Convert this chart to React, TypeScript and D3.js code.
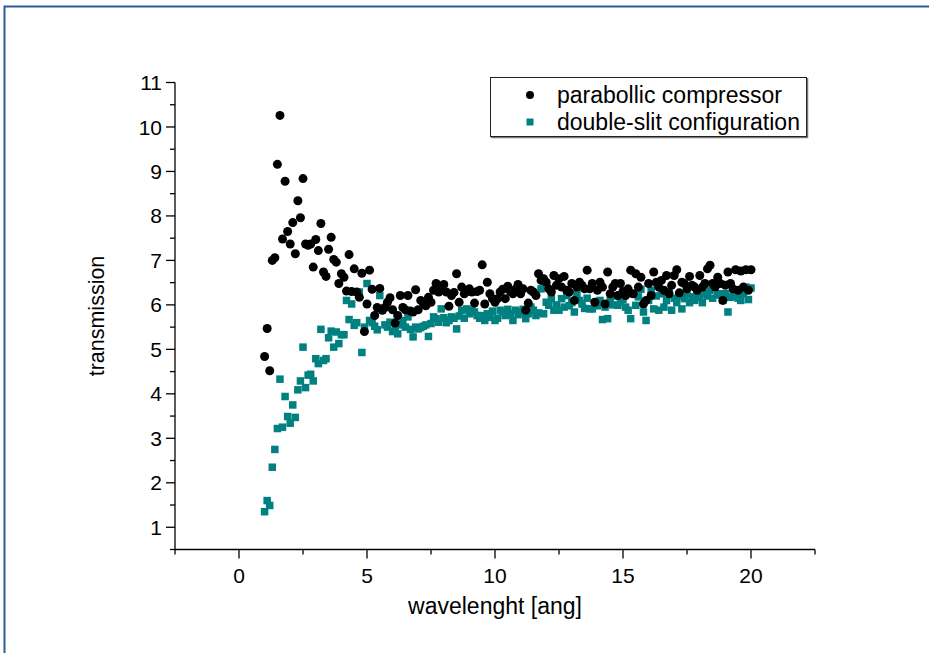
import React from "react";
import * as d3 from "d3";

const wavelengths = [
  1.0, 1.1, 1.2, 1.3, 1.4, 1.5, 1.6, 1.7, 1.8, 1.9,
  2.0, 2.1, 2.2, 2.3, 2.4, 2.5, 2.6, 2.7, 2.8, 2.9,
  3.0, 3.1, 3.2, 3.3, 3.4, 3.5, 3.6, 3.7, 3.8, 3.9,
  4.0, 4.1, 4.2, 4.3, 4.4, 4.5, 4.6, 4.7, 4.8, 4.9,
  5.0, 5.1, 5.2, 5.3, 5.4, 5.5, 5.6, 5.7, 5.8, 5.9,
  6.0, 6.1, 6.2, 6.3, 6.4, 6.5, 6.6, 6.7, 6.8, 6.9,
  7.0, 7.1, 7.2, 7.3, 7.4, 7.5, 7.6, 7.7, 7.8, 7.9,
  8.0, 8.1, 8.2, 8.3, 8.4, 8.5, 8.6, 8.7, 8.8, 8.9,
  9.0, 9.1, 9.2, 9.3, 9.4, 9.5, 9.6, 9.7, 9.8, 9.9,
  10.0, 10.1, 10.2, 10.3, 10.4, 10.5, 10.6, 10.7, 10.8, 10.9,
  11.0, 11.1, 11.2, 11.3, 11.4, 11.5, 11.6, 11.7, 11.8, 11.9,
  12.0, 12.1, 12.2, 12.3, 12.4, 12.5, 12.6, 12.7, 12.8, 12.9,
  13.0, 13.1, 13.2, 13.3, 13.4, 13.5, 13.6, 13.7, 13.8, 13.9,
  14.0, 14.1, 14.2, 14.3, 14.4, 14.5, 14.6, 14.7, 14.8, 14.9,
  15.0, 15.1, 15.2, 15.3, 15.4, 15.5, 15.6, 15.7, 15.8, 15.9,
  16.0, 16.1, 16.2, 16.3, 16.4, 16.5, 16.6, 16.7, 16.8, 16.9,
  17.0, 17.1, 17.2, 17.3, 17.4, 17.5, 17.6, 17.7, 17.8, 17.9,
  18.0, 18.1, 18.2, 18.3, 18.4, 18.5, 18.6, 18.7, 18.8, 18.9,
  19.0, 19.1, 19.2, 19.3, 19.4, 19.5, 19.6, 19.7, 19.8, 19.9,
  20.0,
];

const parabolicCompressor = [
  4.84, 5.47, 4.52, 7.0, 7.06, 9.16, 10.26, 7.48, 8.78, 7.65,
  7.37, 7.85, 7.15, 8.34, 7.96, 8.84, 7.37, 7.34, 7.37, 6.85,
  7.47, 7.22, 7.83, 6.74, 6.64, 7.25, 7.52, 7.02, 6.96, 6.48,
  6.7, 6.62, 6.31, 7.13, 6.3, 6.81, 6.29, 6.17, 6.71, 5.4,
  6.02, 6.78, 6.35, 5.76, 5.94, 6.37, 5.88, 5.94, 6.06, 6.16,
  5.89, 5.59, 5.76, 6.21, 5.94, 5.89, 6.21, 5.86, 5.84, 6.34,
  5.89, 6.1, 6.04, 5.98, 6.17, 6.06, 6.33, 6.48, 6.29, 6.33,
  6.46, 6.29, 5.97, 6.21, 6.28, 6.7, 6.06, 6.4, 6.25, 6.3,
  6.36, 6.29, 6.04, 6.3, 6.33, 6.9, 6.02, 6.51, 6.25, 6.14,
  6.06, 6.14, 6.29, 6.35, 6.14, 6.42, 6.3, 6.25, 6.35, 6.46,
  6.25, 6.36, 5.88, 6.04, 6.33, 6.29, 6.21, 6.7, 6.55, 6.59,
  6.51, 6.36, 6.29, 6.66, 6.44, 6.59, 6.4, 6.64, 6.33, 6.29,
  6.48, 6.1, 6.4, 6.51, 6.44, 6.36, 6.78, 6.36, 6.48, 6.06,
  6.33, 6.51, 6.4, 6.02, 6.74, 6.25, 6.4, 6.48, 6.21, 6.48,
  6.3, 6.21, 6.36, 6.78, 6.25, 6.7, 6.4, 6.62, 6.02, 6.1,
  6.48, 6.21, 6.74, 6.51, 6.4, 6.55, 6.33, 6.66, 6.25, 6.44,
  6.66, 6.79, 6.27, 6.51, 6.48, 6.36, 6.64, 6.44, 6.4, 6.33,
  6.66, 6.4, 6.48, 6.81, 6.89, 6.48, 6.4, 6.62, 6.48, 6.1,
  6.44, 6.74, 6.48, 6.36, 6.79, 6.33, 6.76, 6.4, 6.79, 6.33,
  6.79,
];

const doubleSlit = [
  1.35, 1.6, 1.49, 2.35, 2.75, 3.22, 4.33, 3.25, 3.94, 3.49,
  3.34, 3.75, 3.47, 4.09, 4.29, 5.05, 4.14, 4.42, 4.44, 4.29,
  4.79, 4.68, 5.45, 4.75, 4.79, 5.26, 5.41, 5.05, 5.39, 5.13,
  5.33, 5.33, 6.1, 5.67, 6.02, 5.54, 5.6, 6.29, 4.93, 5.5,
  6.48, 5.65, 5.6, 5.52, 5.44, 6.21, 5.88, 5.55, 5.5, 5.61,
  5.4, 5.46, 5.35, 5.55, 5.65, 5.5, 5.73, 5.45, 5.28, 5.5,
  5.46, 5.49, 5.52, 5.55, 5.29, 5.58, 5.73, 5.69, 5.61, 5.91,
  5.71, 5.6, 5.65, 5.73, 5.7, 5.46, 5.75, 5.88, 5.7, 5.91,
  5.8, 5.88, 5.84, 5.76, 5.7, 5.76, 5.65, 5.8, 5.72, 5.86,
  5.65, 5.7, 5.88, 5.84, 5.76, 5.9, 5.8, 5.65, 5.88, 5.78,
  5.84, 5.9, 5.69, 5.8, 5.95, 5.88, 5.76, 5.82, 6.36, 5.8,
  6.06, 5.99, 6.14, 5.88, 6.0, 5.88, 6.14, 5.95, 6.21, 5.98,
  6.05, 5.84, 6.25, 6.1, 6.02, 5.92, 6.15, 5.91, 5.91, 6.05,
  5.98, 6.1, 5.67, 5.95, 5.69, 6.1, 6.0, 6.2, 5.99, 6.06,
  6.12, 5.95, 5.88, 5.69, 6.25, 5.99, 6.18, 6.35, 5.84, 5.65,
  6.1, 6.33, 5.91, 6.2, 5.88, 6.25, 5.95, 6.1, 6.3, 5.88,
  6.15, 6.05, 6.2, 5.91, 6.14, 6.25, 6.05, 6.18, 6.1, 6.25,
  6.17, 6.05, 6.25, 6.2, 6.33, 6.15, 6.48, 6.22, 6.25, 6.1,
  6.25, 5.84, 6.17, 6.3, 6.2, 6.15, 6.1, 6.25, 6.4, 6.12,
  6.38,
];

const xMajorTicks = [0, 5, 10, 15, 20];
const xMinorTicks = [-2.5, 2.5, 7.5, 12.5, 17.5, 22.5];
const yMajorTicks = [1, 2, 3, 4, 5, 6, 7, 8, 9, 10, 11];
const yMinorTicks = [0.5, 1.5, 2.5, 3.5, 4.5, 5.5, 6.5, 7.5, 8.5, 9.5, 10.5];

const seriesNames = ["parabollic compressor", "double-slit configuration"];

const FONT = "'Liberation Sans', Arial, sans-serif";
const TEAL = "#008080";

export default function App() {
  const W = 929;
  const H = 653;
  const x = d3.scaleLinear().domain([-2.5, 22.5]).range([175, 815]);
  const y = d3.scaleLinear().domain([0.5, 11]).range([549.5, 82.5]);
  const x0 = x(-2.5);
  const y0 = y(0.5);
  const sq = 7.5;

  return (
    <svg
      width={W}
      height={H}
      style={{ position: "absolute", left: 0, top: 0, background: "#fff" }}
    >
      <rect x={0} y={0} width={W} height={H} fill="#fff" />
      {/* outer frame */}
      <path d={`M4.5,${H + 5} V6.5 H${W + 5}`} fill="none" stroke="#2f5a9a" strokeWidth={2} />

      {/* axes */}
      <line x1={x0} x2={x0} y1={y(11)} y2={y0} stroke="#000" strokeWidth={1.3} />
      <line x1={x0} x2={x(22.5)} y1={y0} y2={y0} stroke="#000" strokeWidth={1.3} />

      {yMajorTicks.map((t) => (
        <g key={"ym" + t}>
          <line x1={x0 - 9} x2={x0} y1={y(t)} y2={y(t)} stroke="#000" strokeWidth={1.3} />
          <text
            x={x0 - 13}
            y={y(t)}
            dy="0.36em"
            textAnchor="end"
            fontFamily={FONT}
            fontSize={21}
          >
            {t}
          </text>
        </g>
      ))}
      {yMinorTicks.map((t) => (
        <line key={"yn" + t} x1={x0 - 5} x2={x0} y1={y(t)} y2={y(t)} stroke="#000" strokeWidth={1.3} />
      ))}
      {xMajorTicks.map((t) => (
        <g key={"xm" + t}>
          <line x1={x(t)} x2={x(t)} y1={y0} y2={y0 + 9} stroke="#000" strokeWidth={1.3} />
          <text
            x={x(t)}
            y={583}
            textAnchor="middle"
            fontFamily={FONT}
            fontSize={21}
          >
            {t}
          </text>
        </g>
      ))}
      {xMinorTicks.map((t) => (
        <line key={"xn" + t} x1={x(t)} x2={x(t)} y1={y0} y2={y0 + 5} stroke="#000" strokeWidth={1.3} />
      ))}

      <text
        x={495}
        y={614}
        textAnchor="middle"
        fontFamily={FONT}
        fontSize={23}
      >
        wavelenght [ang]
      </text>
      <text
        transform={`translate(104,316) rotate(-90)`}
        textAnchor="middle"
        fontFamily={FONT}
        fontSize={21.5}
      >
        transmission
      </text>

      {/* data */}
      <g>
        {wavelengths.map((w, i) => (
          <rect
            key={"d" + i}
            x={x(w) - sq / 2}
            y={y(doubleSlit[i]) - sq / 2}
            width={sq}
            height={sq}
            fill={TEAL}
          />
        ))}
      </g>
      <g>
        {wavelengths.map((w, i) => (
          <circle key={"p" + i} cx={x(w)} cy={y(parabolicCompressor[i])} r={4.5} fill="#000" />
        ))}
      </g>

      {/* legend */}
      <g>
        <line x1={491} x2={808} y1={137.5} y2={137.5} stroke="#777" strokeWidth={1.5} />
        <line x1={807.5} x2={807.5} y1={78} y2={138} stroke="#777" strokeWidth={1.5} />
        <rect x={490.5} y={77.5} width={316} height={59} fill="#fff" stroke="#222" strokeWidth={1} />
        <circle cx={530} cy={95} r={4} fill="#000" />
        <rect x={530 - 3.5} y={122 - 3.5} width={7} height={7} fill={TEAL} />
        <text x={557} y={103} fontFamily={FONT} fontSize={23}>
          {seriesNames[0]}
        </text>
        <text x={557} y={130} fontFamily={FONT} fontSize={23}>
          {seriesNames[1]}
        </text>
      </g>
    </svg>
  );
}
